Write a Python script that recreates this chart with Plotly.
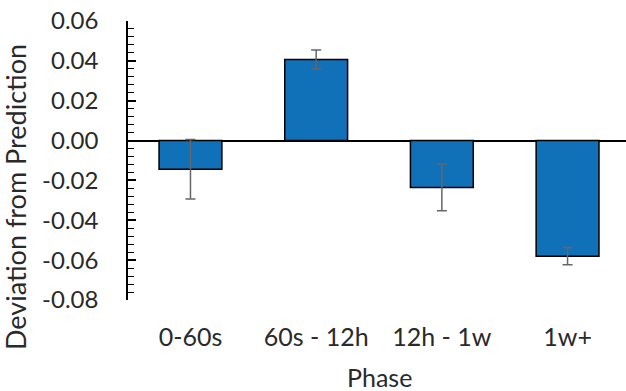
import plotly.graph_objects as go

categories = ["0-60s", "60s - 12h", "12h - 1w", "1w+"]
values = [-0.0144, 0.0407, -0.0235, -0.0580]
errors = [0.0149, 0.0048, 0.0117, 0.0043]
ytick_vals = [0.06, 0.04, 0.02, 0.0, -0.02, -0.04, -0.06, -0.08]
ytick_text = ["0.06", "0.04", "0.02", "0.00", "-0.02", "-0.04", "-0.06", "-0.08"]

FONT = "Lato"
TXT = "#2a2a2a"
W, H = 626, 391
ML, MR, MT, MB = 128, 0, 21, 91

fig = go.Figure()
fig.add_trace(go.Bar(
    x=list(range(len(categories))),
    y=values,
    width=0.5,
    marker=dict(color="#1070B8", line=dict(color="black", width=1.5)),
    error_y=dict(type="data", array=errors, visible=True, color="#666666",
                 thickness=1.5, width=5),
))

fig.update_layout(
    width=W, height=H,
    margin=dict(l=ML, r=MR, t=MT, b=MB),
    plot_bgcolor="white", paper_bgcolor="white",
    showlegend=False,
    font=dict(family=FONT, size=24, color=TXT),
    xaxis=dict(
        range=[-0.497, 3.465],
        tickmode="array",
        tickvals=list(range(len(categories))),
        ticktext=categories,
        showline=False, showgrid=False, zeroline=False, ticks="",
        ticklabelstandoff=20,
        tickfont=dict(family=FONT, size=25, color=TXT),
    ),
    yaxis=dict(
        range=[-0.08, 0.06],
        tickmode="array",
        tickvals=ytick_vals,
        ticktext=ytick_text,
        showline=True, linecolor="black", linewidth=1.5,
        showgrid=False,
        zeroline=True, zerolinecolor="black", zerolinewidth=1.5,
        ticks="inside", ticklen=8, tickcolor="black", tickwidth=1.5,
        minor=dict(dtick=0.004, tick0=0, ticks="inside", ticklen=6,
                   tickcolor="black", tickwidth=1, showgrid=False),
        ticklabelstandoff=23,
        tickfont=dict(family=FONT, size=24, color=TXT),
    ),
    annotations=[
        dict(text="Deviation from Prediction", textangle=-90,
             xref="paper", yref="paper",
             x=(15 - ML) / (W - ML - MR), y=(H - MB - 197) / (H - MT - MB),
             showarrow=False, xanchor="center", yanchor="middle",
             font=dict(family=FONT, size=27, color=TXT)),
        dict(text="Phase",
             xref="paper", yref="paper",
             x=(379.5 - ML) / (W - ML - MR), y=(H - MB - 377) / (H - MT - MB),
             showarrow=False, xanchor="center", yanchor="middle",
             font=dict(family=FONT, size=25, color=TXT)),
    ],
)

fig.write_html("out.html")
